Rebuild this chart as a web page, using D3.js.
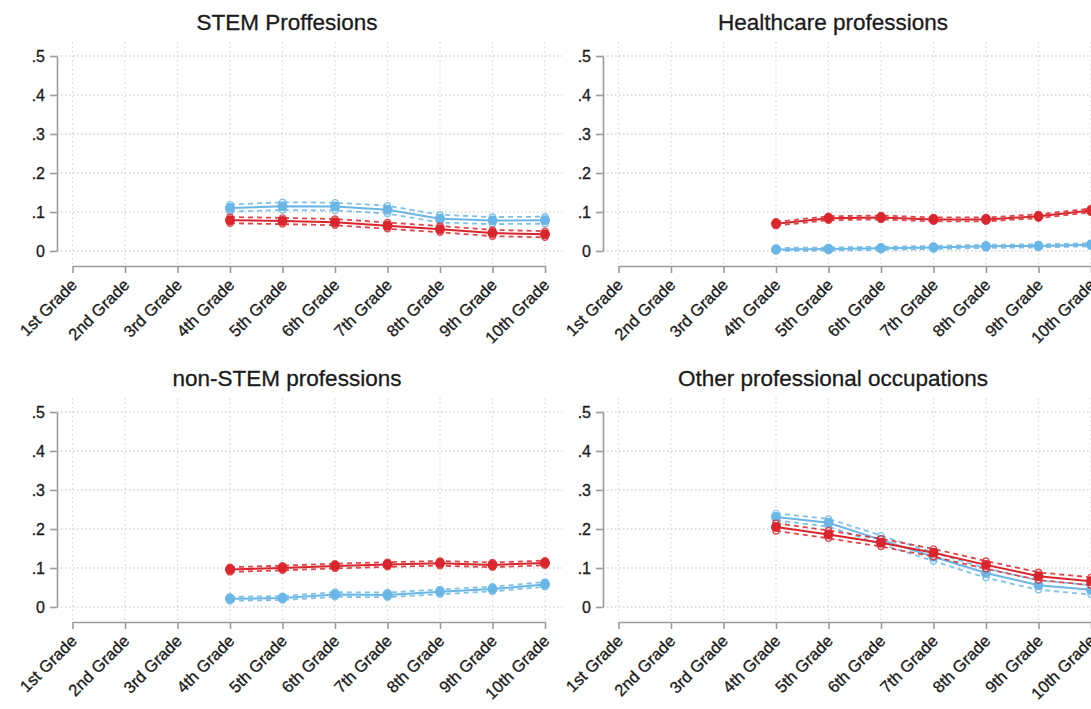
<!DOCTYPE html>
<html>
<head>
<meta charset="utf-8">
<script src="https://cdn.jsdelivr.net/npm/d3@7"></script>
<style>
  body { margin: 0; background: #fff; }
  text { font-family: "Liberation Sans", Arial, Helvetica, sans-serif; fill: #1a1a1a; stroke: #1a1a1a; stroke-width: 0.3px; }
</style>
</head>
<body>
<svg id="chart" width="1091" height="709"></svg>
<script>
// grades on the x axis, and the ones that carry estimates
var grades = ["1st Grade", "2nd Grade", "3rd Grade", "4th Grade", "5th Grade",
  "6th Grade", "7th Grade", "8th Grade", "9th Grade", "10th Grade"];
var observed = ["4th Grade", "5th Grade", "6th Grade", "7th Grade", "8th Grade", "9th Grade", "10th Grade"];
var yTicks = [0, 0.1, 0.2, 0.3, 0.4, 0.5];
var titles = ["STEM Proffesions", "Healthcare professions", "non-STEM professions", "Other professional occupations"];

// point estimates and half-widths of the confidence band
var stemBlue = [0.110, 0.115, 0.114, 0.106, 0.083, 0.078, 0.079];
var stemBlueCI = [0.009, 0.010, 0.010, 0.010, 0.010, 0.009, 0.009];
var stemRed = [0.079, 0.077, 0.074, 0.065, 0.056, 0.046, 0.043];
var stemRedCI = [0.008, 0.008, 0.008, 0.008, 0.008, 0.008, 0.008];

var healthBlue = [0.004, 0.005, 0.007, 0.009, 0.012, 0.013, 0.016];
var healthBlueCI = [0.004, 0.004, 0.004, 0.004, 0.004, 0.004, 0.004];
var healthRed = [0.070, 0.084, 0.086, 0.081, 0.081, 0.089, 0.104];
var healthRedCI = [0.005, 0.005, 0.005, 0.005, 0.005, 0.005, 0.005];

var nonStemBlue = [0.021, 0.023, 0.032, 0.031, 0.039, 0.046, 0.058];
var nonStemBlueCI = [0.005, 0.005, 0.006, 0.006, 0.006, 0.006, 0.006];
var nonStemRed = [0.096, 0.100, 0.105, 0.109, 0.112, 0.108, 0.113];
var nonStemRedCI = [0.006, 0.006, 0.006, 0.006, 0.006, 0.006, 0.006];

var otherBlue = [0.231, 0.216, 0.172, 0.129, 0.087, 0.056, 0.044];
var otherBlueCI = [0.009, 0.010, 0.011, 0.011, 0.012, 0.012, 0.012];
var otherRed = [0.205, 0.186, 0.165, 0.139, 0.108, 0.079, 0.066];
var otherRedCI = [0.010, 0.010, 0.010, 0.010, 0.010, 0.010, 0.010];

var RED = "#d9262c", BLUE = "#6ab6e6";

var panels = [
  { title: titles[0], dx: 0, dy: 0, series: [[stemBlue, stemBlueCI, BLUE], [stemRed, stemRedCI, RED]] },
  { title: titles[1], dx: 546, dy: 0, series: [[healthBlue, healthBlueCI, BLUE], [healthRed, healthRedCI, RED]] },
  { title: titles[2], dx: 0, dy: 356, series: [[nonStemBlue, nonStemBlueCI, BLUE], [nonStemRed, nonStemRedCI, RED]] },
  { title: titles[3], dx: 546, dy: 356, series: [[otherBlue, otherBlueCI, BLUE], [otherRed, otherRedCI, RED]] }
];

var svg = d3.select("#chart");

// local panel geometry (top-left panel coordinates)
var x = d3.scalePoint().domain(grades).range([72.5, 545]);
var y = d3.scaleLinear().domain([0, 0.5]).range([251, 56]);
var axisX = 57, axisY = 266;

var fmt = function(d) { return d === 0 ? "0" : d3.format(".1f")(d).replace(/^0/, ""); };

panels.forEach(function(p) {
  var g = svg.append("g").attr("transform", "translate(" + p.dx + "," + p.dy + ")");

  // title
  g.append("text")
    .text(p.title)
    .attr("x", 287)
    .attr("y", 30)
    .attr("text-anchor", "middle")
    .style("font-size", "22.5px");

  // dotted grid
  g.selectAll("line.hgrid")
    .data(yTicks)
    .enter()
    .append("line")
    .attr("class", "hgrid")
    .attr("x1", axisX).attr("x2", 562)
    .attr("y1", function(d) { return y(d); })
    .attr("y2", function(d) { return y(d); })
    .attr("stroke", "#d4d4d4")
    .attr("stroke-width", 1.3)
    .attr("stroke-dasharray", "1.5,2.5");

  g.selectAll("line.vgrid")
    .data(grades)
    .enter()
    .append("line")
    .attr("class", "vgrid")
    .attr("x1", function(d) { return x(d); })
    .attr("x2", function(d) { return x(d); })
    .attr("y1", 42).attr("y2", axisY)
    .attr("stroke", "#d8d8d8")
    .attr("stroke-width", 1.2)
    .attr("stroke-dasharray", "1.5,3");

  // y axis
  var ya = g.append("g")
    .attr("transform", "translate(" + axisX + ",0)")
    .call(d3.axisLeft(y).tickValues(yTicks).tickFormat(fmt).tickSize(7).tickSizeOuter(0).tickPadding(5));
  ya.selectAll("text").style("font-size", "16px").attr("fill", "#1a1a1a");

  // x axis
  var xa = g.append("g")
    .attr("transform", "translate(0," + axisY + ")")
    .call(d3.axisBottom(x).tickSize(7).tickSizeOuter(0));
  xa.selectAll("text")
    .style("font-size", "16.5px")
    .attr("fill", "#1a1a1a")
    .attr("text-anchor", "end")
    .attr("dy", null)
    .attr("y", null)
    .attr("transform", "translate(5,20) rotate(-45)");

  g.selectAll(".domain, .tick line").attr("stroke", "#9c9c9c").attr("stroke-width", 1.6);

  // series: confidence band as dashed lines, estimate as solid line with markers
  p.series.forEach(function(s) {
    var vals = s[0], ci = s[1], col = s[2];
    var pts = observed.map(function(gr, i) { return { g: gr, v: vals[i], lo: vals[i] - ci[i], hi: vals[i] + ci[i] }; });

    ["lo", "hi"].forEach(function(k) {
      g.append("path")
        .datum(pts)
        .attr("fill", "none")
        .attr("stroke", col)
        .attr("stroke-width", 1.8)
        .attr("stroke-dasharray", "5,4")
        .attr("opacity", 0.85)
        .attr("d", d3.line().x(function(d) { return x(d.g); }).y(function(d) { return y(d[k]); }));
      g.selectAll(null)
        .data(pts)
        .enter()
        .append("circle")
        .attr("cx", function(d) { return x(d.g); })
        .attr("cy", function(d) { return y(d[k]); })
        .attr("r", 3)
        .attr("fill", "#fff")
        .attr("stroke", col)
        .attr("stroke-width", 1.4)
        .attr("opacity", 0.8);
    });

    g.append("path")
      .datum(pts)
      .attr("fill", "none")
      .attr("stroke", col)
      .attr("stroke-width", 2)
      .attr("d", d3.line().x(function(d) { return x(d.g); }).y(function(d) { return y(d.v); }));

    g.selectAll(null)
      .data(pts)
      .enter()
      .append("circle")
      .attr("cx", function(d) { return x(d.g); })
      .attr("cy", function(d) { return y(d.v); })
      .attr("r", 5)
      .attr("fill", col);
  });
});
</script>
</body>
</html>
